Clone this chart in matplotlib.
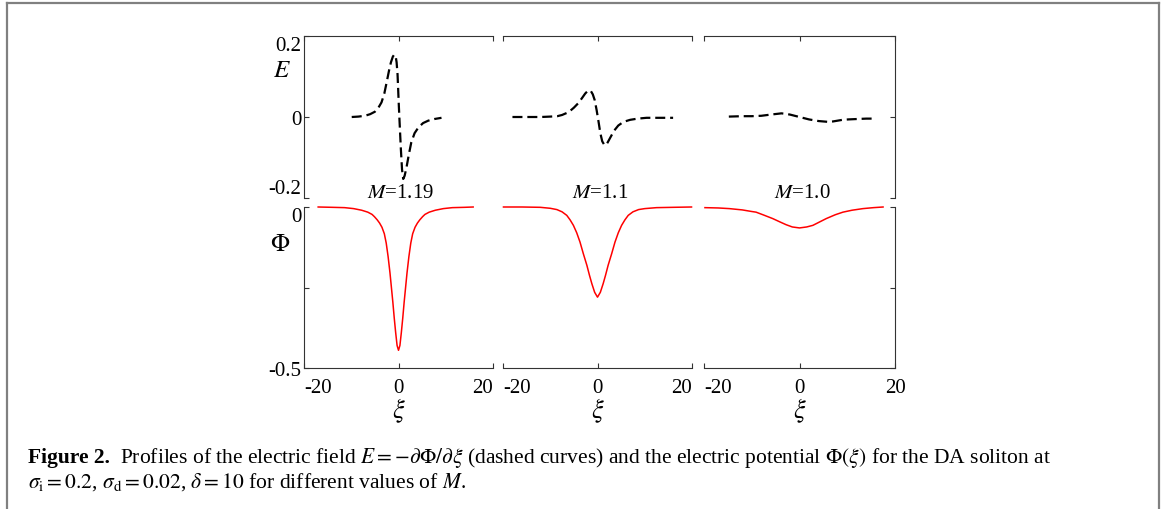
import matplotlib
matplotlib.use('Agg')
import matplotlib.pyplot as plt
from matplotlib.lines import Line2D

plt.rcParams['font.family'] = 'serif'
plt.rcParams['font.serif'] = ['Liberation Serif', 'DejaVu Serif']
plt.rcParams['mathtext.fontset'] = 'stix'
plt.rcParams['axes.unicode_minus'] = False

# Data: electric field E (dashed) and potential Phi (red)
mach = ['1.19', '1.1', '1.0']

xi_e1 = [-9.9, -8.5, -7.1, -6.0, -5.0, -4.3, -3.6, -3.0, -2.5, -2.0, -1.6, -1.2, -0.9,
         -0.6, -0.4, -0.2, 0.07, 0.3, 0.5, 0.75, 1.0, 1.3, 1.7, 2.2, 2.7, 3.4, 4.2, 5.2,
         6.3, 7.6, 9.1]
e1 = [0.0, 0.001, 0.003, 0.007, 0.013, 0.022, 0.036, 0.058, 0.086, 0.115, 0.135, 0.149,
      0.154, 0.150, 0.135, 0.105, 0.028, -0.03, -0.079, -0.13, -0.153, -0.145, -0.124,
      -0.092, -0.063, -0.04, -0.026, -0.015, -0.009, -0.005, -0.002]

xi_e2 = [-18, -15, -12, -10, -8.5, -7.5, -6.5, -5.8, -5.0, -4.0, -3.2, -2.6, -2.1, -1.8,
         -1.4, -1.0, -0.6, -0.2, 0.2, 0.6, 1.0, 1.5, 2.0, 2.7, 3.5, 4.4, 5.5, 6.9, 8.5,
         10.4, 13, 16]
e2 = [0.0, 0.0, 0.0, 0.001, 0.002, 0.005, 0.01, 0.015, 0.023, 0.035, 0.048, 0.058, 0.064,
      0.066, 0.064, 0.056, 0.042, 0.018, -0.01, -0.04, -0.06, -0.07, -0.066, -0.051,
      -0.034, -0.021, -0.012, -0.007, -0.004, -0.002, -0.002, -0.002]

xi_e3 = [-14.8, -12, -10, -8, -6, -4.5, -3.8, -3, -2, -1, 0, 1, 2, 3, 4, 5, 6, 7, 8, 9,
         10.2, 12, 14, 16]
e3 = [0.001, 0.002, 0.002, 0.003, 0.006, 0.008, 0.009, 0.008, 0.006, 0.003, 0.0, -0.003,
      -0.006, -0.008, -0.01, -0.011, -0.012, -0.011, -0.009, -0.007, -0.006, -0.005,
      -0.004, -0.004]

xi_p1 = [-17, -14, -11.4, -9.5, -7.8, -6.5, -5.6, -5.1, -4.5, -4.0, -3.5, -3.0, -2.6,
         -2.2, -1.8, -1.5, -1.2, -0.9, -0.6, -0.3, 0, 0.3, 0.6, 0.9, 1.2, 1.5, 1.8, 2.2,
         2.6, 3.0, 3.5, 4.0, 4.5, 5.1, 5.6, 6.5, 7.8, 9.5, 11.4, 14, 15.8]
p1 = [0.0, -0.001, -0.002, -0.005, -0.01, -0.016, -0.023, -0.03, -0.04, -0.05, -0.063,
      -0.083, -0.112, -0.154, -0.205, -0.25, -0.295, -0.345, -0.39, -0.43, -0.445, -0.43,
      -0.39, -0.345, -0.295, -0.25, -0.205, -0.154, -0.112, -0.083, -0.063, -0.05, -0.04,
      -0.03, -0.023, -0.016, -0.01, -0.005, -0.002, -0.001, 0.0]

xi_p2 = [-19.9, -16, -12.1, -10, -8.6, -7.5, -6.5, -5.8, -5.1, -4.4, -3.7, -3.0, -2.25,
         -1.7, -1.2, -0.6, 0, 0.6, 1.2, 1.7, 2.25, 3.0, 3.7, 4.4, 5.1, 5.8, 6.5, 7.5, 8.7,
         10, 12.5, 16, 19.9]
p2 = [0.0, 0.0, -0.001, -0.004, -0.008, -0.015, -0.026, -0.04, -0.057, -0.08, -0.109,
      -0.145, -0.181, -0.212, -0.238, -0.265, -0.28, -0.265, -0.238, -0.212, -0.181,
      -0.145, -0.109, -0.08, -0.057, -0.04, -0.026, -0.015, -0.008, -0.005, -0.002,
      -0.001, 0.0]

xi_p3 = [-19.8, -17, -14.7, -12, -10, -9.1, -7.5, -5.6, -4, -2.8, -1.5, 0, 1.5, 2.8, 4,
         5.6, 7.5, 9.1, 11, 13.3, 15.5, 17.5]
p3 = [-0.002, -0.003, -0.005, -0.009, -0.014, -0.016, -0.025, -0.036, -0.047, -0.055,
      -0.062, -0.065, -0.062, -0.057, -0.048, -0.036, -0.024, -0.016, -0.01, -0.005,
      -0.002, 0.0]

xi_e = [xi_e1, xi_e2, xi_e3]
e_vals = [e1, e2, e3]
xi_p = [xi_p1, xi_p2, xi_p3]
p_vals = [p1, p2, p3]

xticks = [-20, 0, 20]
xticklabels = ['-20', '0', '20']
e_ticks = [0.2, 0, -0.2]
e_ticklabels = ['0.2', '0', '-0.2']
p_ticks = [0, -0.25, -0.5]
p_ticklabels = ['0', '', '-0.5']

W, H = 1165, 510
fig = plt.figure(figsize=(W / 100, H / 100), dpi=100)


def px_rect(x0, x1, y0, y1):
    return [x0 / W, 1 - y1 / H, (x1 - x0) / W, (y1 - y0) / H]


cols = [(304, 493), (503, 692), (704, 895)]
top_row = (37, 199)
bot_row = (208, 369)
spine_c = '#333333'
fs = 15

for i in range(3):
    axt = fig.add_axes(px_rect(*cols[i], *top_row))
    axb = fig.add_axes(px_rect(*cols[i], *bot_row))

    axt.plot(xi_e[i], e_vals[i], color='k', lw=1.6, dashes=(4.5, 2.2), clip_on=False)
    axb.plot(xi_p[i], p_vals[i], color='red', lw=1.1, clip_on=False)

    axt.set_xlim(-20, 20)
    axt.set_ylim(-0.2, 0.2)
    axb.set_xlim(-20, 20)
    axb.set_ylim(-0.5, 0)

    for ax in (axt, axb):
        for s in ax.spines.values():
            s.set_color(spine_c)
            s.set_linewidth(0.8)
        ax.spines['left'].set_visible(i == 0)
        ax.spines['right'].set_visible(i == 2)
        ax.tick_params(direction='in', length=3.5, width=0.8, color=spine_c,
                       labelsize=fs)
        ax.set_xticks(xticks)

    axt.spines['bottom'].set_visible(False)
    axb.spines['top'].set_visible(False)

    # top row: x ticks on top spine, no labels
    axt.tick_params(axis='x', bottom=False, top=True, labelbottom=False, labeltop=False)
    axb.set_xticklabels(xticklabels)
    axb.tick_params(axis='x', top=False, pad=7)
    xl = axb.get_xticklabels()
    xl[0].set_ha('left')
    if i < 2:
        xl[2].set_ha('right')
    axb.set_xlabel(r'$\xi$', fontsize=19, labelpad=-1)

    axt.set_yticks(e_ticks)
    axb.set_yticks(p_ticks)
    if i == 0:
        axt.set_yticklabels(e_ticklabels)
        axb.set_yticklabels(p_ticklabels)
        yl = axt.get_yticklabels()
        yl[0].set_va('top')
        yl[2].set_va('bottom')
        axb.get_yticklabels()[0].set_va('top')
        for ax in (axt, axb):
            ax.tick_params(axis='y', left=True, right=False, pad=2)
    elif i == 2:
        for ax in (axt, axb):
            ax.tick_params(axis='y', left=False, right=True, labelleft=False)
    else:
        for ax in (axt, axb):
            ax.tick_params(axis='y', left=False, right=False, labelleft=False)

    axt.annotate(r'$M$=' + mach[i], xy=(0.5, 0), xycoords=('data', 'axes fraction'),
                 xytext=(0, 4), textcoords='offset points', ha='center', va='center',
                 fontsize=fs, annotation_clip=False)

fig.text(282 / W, 1 - 71 / H, r'$E$', fontsize=18, ha='center', va='center')
fig.text(280 / W, 1 - 245 / H, r'$\Phi$', fontsize=18, ha='center', va='center')

# caption
cap_fs = 15.5
cap_x = 28
t1 = fig.text(cap_x / W, 1 - 458 / H, 'Figure 2.', fontsize=cap_fs, fontweight='bold',
              va='center')
fig.canvas.draw()
bb = t1.get_window_extent(fig.canvas.get_renderer())
fig.text((bb.x1 + 10) / W, 1 - 458 / H,
         r'Profiles of the electric field $E = -\partial\Phi/\partial\xi$ (dashed curves)'
         r' and the electric potential $\Phi(\xi)$ for the DA soliton at',
         fontsize=cap_fs, va='center')
fig.text(cap_x / W, 1 - 482 / H,
         r'$\sigma_{\rm i} = 0.2$, $\sigma_{\rm d} = 0.02$, $\delta = 10$'
         r' for different values of $M$.',
         fontsize=cap_fs, va='center')

# grey frame around the figure
border = '#808080'
fig.add_artist(Line2D([7 / W, 7 / W], [0, 1 - 4 / H], color=border, lw=1.6))
fig.add_artist(Line2D([7 / W, 1159 / W], [1 - 4 / H, 1 - 4 / H], color=border, lw=1.6))
fig.add_artist(Line2D([1159 / W, 1159 / W], [0, 1 - 4 / H], color=border, lw=1.6))

fig.savefig('out.png', dpi=100)
